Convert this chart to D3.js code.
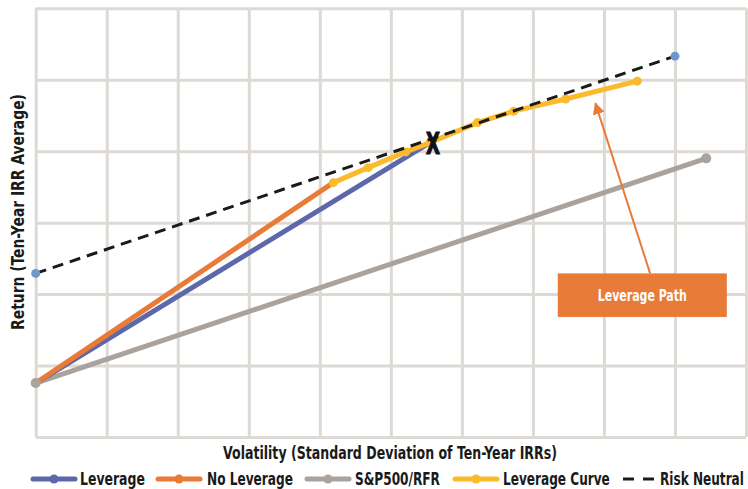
<!DOCTYPE html>
<html>
<head>
<meta charset="utf-8">
<script src="https://cdn.jsdelivr.net/npm/d3@7"></script>
<style>
  body { margin: 0; background: #fff; }
  text { font-family: "Liberation Sans Narrow", "DejaVu Sans Condensed", "Roboto Condensed", sans-serif; font-weight: bold; }
</style>
</head>
<body>
<div id="chart"></div>
<script>
// values read in grid units (x: 0-10, y: 0-6)
var leverageX = [0, 5.55], leverageY = [0.755, 4.12];
var noLeverageX = [0, 4.19], noLeverageY = [0.755, 3.56];
var spX = [0, 9.44], spY = [0.755, 3.90];
var curveX = [4.19, 4.68, 5.21, 5.55, 6.22, 6.73, 7.46, 8.47];
var curveY = [3.56, 3.77, 3.99, 4.12, 4.40, 4.56, 4.73, 4.98];
var neutralX = [0, 9], neutralY = [2.29, 5.33];
var legendNames = ["Leverage", "No Leverage", "S&P500/RFR", "Leverage Curve", "Risk Neutral"];
var colors = ["#5c68a9", "#e97b39", "#aaa29d", "#fbba2c", "#1a1a1a"];

var margin = { top: 8.3, right: 2, bottom: 52, left: 35.7 };

var svg = d3.select("#chart")
    .append("svg")
    .attr("width", 748)
    .attr("height", 489);

svg.append("defs").append("marker")
    .attr("id", "arrow")
    .attr("viewBox", "0 0 10 10")
    .attr("refX", 9).attr("refY", 5)
    .attr("markerWidth", 6).attr("markerHeight", 6)
    .attr("markerUnits", "strokeWidth")
    .attr("orient", "auto")
    .append("path")
    .attr("d", "M0,0 L10,5 L0,10 z")
    .attr("fill", "#e97b39");

// squeeze a label to a given width with a scale, anchored at (px,py)
function label(parent, px, py, str, size, w, anchor, color, rot) {
    var gg = parent.append("g");
    var t = gg.append("text")
        .attr("font-size", size)
        .attr("fill", color)
        .attr("text-anchor", anchor)
        .text(str);
    var sx = w / t.node().getComputedTextLength();
    gg.attr("transform", "translate(" + px + "," + py + ")" + (rot ? " rotate(" + rot + ")" : "") + " scale(" + sx + ",1)");
    return t;
}

var g = svg.append("g")
    .attr("transform", "translate(" + margin.left + "," + margin.top + ")");

var x = d3.scaleLinear().domain([0, 10]).range([0, 710.3]);
var y = d3.scaleLinear().domain([0, 6]).range([428.7, 0]);

// grid
g.append("g")
    .attr("class", "grid")
    .attr("transform", "translate(0," + y(0) + ")")
    .call(d3.axisBottom(x).ticks(10).tickSize(-y.range()[0]).tickFormat(""));
g.append("g")
    .attr("class", "grid")
    .call(d3.axisLeft(y).ticks(6).tickSize(-x(10)).tickFormat(""));
g.selectAll(".grid .domain").remove();
g.selectAll(".grid line").attr("stroke", "#ddd9d4").attr("stroke-width", 3);

function pts(xs, ys) { return xs.map(function (d, i) { return [d, ys[i]]; }); }
var line = d3.line().x(function (d) { return x(d[0]) }).y(function (d) { return y(d[1]) });

var series = [
    { data: pts(spX, spY), color: colors[2] },
    { data: pts(leverageX, leverageY), color: colors[0] },
    { data: pts(noLeverageX, noLeverageY), color: colors[1] },
    { data: pts(curveX, curveY), color: colors[3] }
];
series.forEach(function (s) {
    g.append("path")
        .datum(s.data)
        .attr("d", line)
        .attr("fill", "none")
        .attr("stroke", s.color)
        .attr("stroke-width", 5)
        .attr("stroke-linecap", "round");
});

// yellow curve markers
g.selectAll(".cdot")
    .data(pts(curveX, curveY))
    .enter().append("circle")
    .attr("cx", function (d) { return x(d[0]) })
    .attr("cy", function (d) { return y(d[1]) })
    .attr("r", 4.5)
    .attr("fill", colors[3]);

// risk neutral dashed
g.append("path")
    .datum(pts(neutralX, neutralY))
    .attr("d", line)
    .attr("fill", "none")
    .attr("stroke", colors[4])
    .attr("stroke-width", 3)
    .attr("stroke-dasharray", "11,7");

g.selectAll(".ndot")
    .data(pts(neutralX, neutralY))
    .enter().append("circle")
    .attr("cx", function (d) { return x(d[0]) })
    .attr("cy", function (d) { return y(d[1]) })
    .attr("r", 4.5)
    .attr("fill", "#6f98cc");

g.selectAll(".sdot")
    .data(pts(spX, spY))
    .enter().append("circle")
    .attr("cx", function (d) { return x(d[0]) })
    .attr("cy", function (d) { return y(d[1]) })
    .attr("r", 5)
    .attr("fill", colors[2]);

// X mark at the leverage end point
label(g, x(leverageX[1]) + 3, y(leverageY[1]) + 11, "X", 30, 14, "middle", "#111")
    .attr("stroke", "#111").attr("stroke-width", 1.2);

// annotation
g.append("line")
    .attr("x1", x(8.65)).attr("y1", y(2.29))
    .attr("x2", x(7.88)).attr("y2", y(4.67))
    .attr("stroke", "#e97b39")
    .attr("stroke-width", 2)
    .attr("marker-end", "url(#arrow)");
g.append("rect")
    .attr("x", x(7.35)).attr("y", y(2.29))
    .attr("width", x(9.73) - x(7.35))
    .attr("height", y(1.68) - y(2.29))
    .attr("fill", "#e97b39");
label(g, (x(7.35) + x(9.73)) / 2, y(1.985) + 6, "Leverage Path", 16, 89, "middle", "#fff");

// axis titles
label(svg, 390, 459, "Volatility (Standard Deviation of Ten-Year IRRs)", 18, 334, "middle", "#1a1a1a");
label(svg, 24, 212, "Return (Ten-Year IRR Average)", 18, 236, "middle", "#1a1a1a", -90);

// legend
var legX = [33, 158, 307, 455, 623];
var legTextX = [80, 207, 355, 503, 660];
var legTextW = [65, 86, 85, 107, 84];
var legY = 479;
legendNames.forEach(function (name, i) {
    var lg = svg.append("g");
    if (i < 4) {
        lg.append("line")
            .attr("x1", legX[i]).attr("x2", legX[i] + 42)
            .attr("y1", legY).attr("y2", legY)
            .attr("stroke", colors[i]).attr("stroke-width", 5)
            .attr("stroke-linecap", "round");
        lg.append("circle")
            .attr("cx", legX[i] + 21).attr("cy", legY).attr("r", 4.5)
            .attr("fill", colors[i]);
    } else {
        lg.append("line")
            .attr("x1", legX[i]).attr("x2", legX[i] + 34)
            .attr("y1", legY).attr("y2", legY)
            .attr("stroke", colors[i]).attr("stroke-width", 3)
            .attr("stroke-dasharray", "11,9");
    }
    label(lg, legTextX[i], legY + 6, name, 18, legTextW[i], "start", "#1a1a1a");
});
</script>
</body>
</html>
